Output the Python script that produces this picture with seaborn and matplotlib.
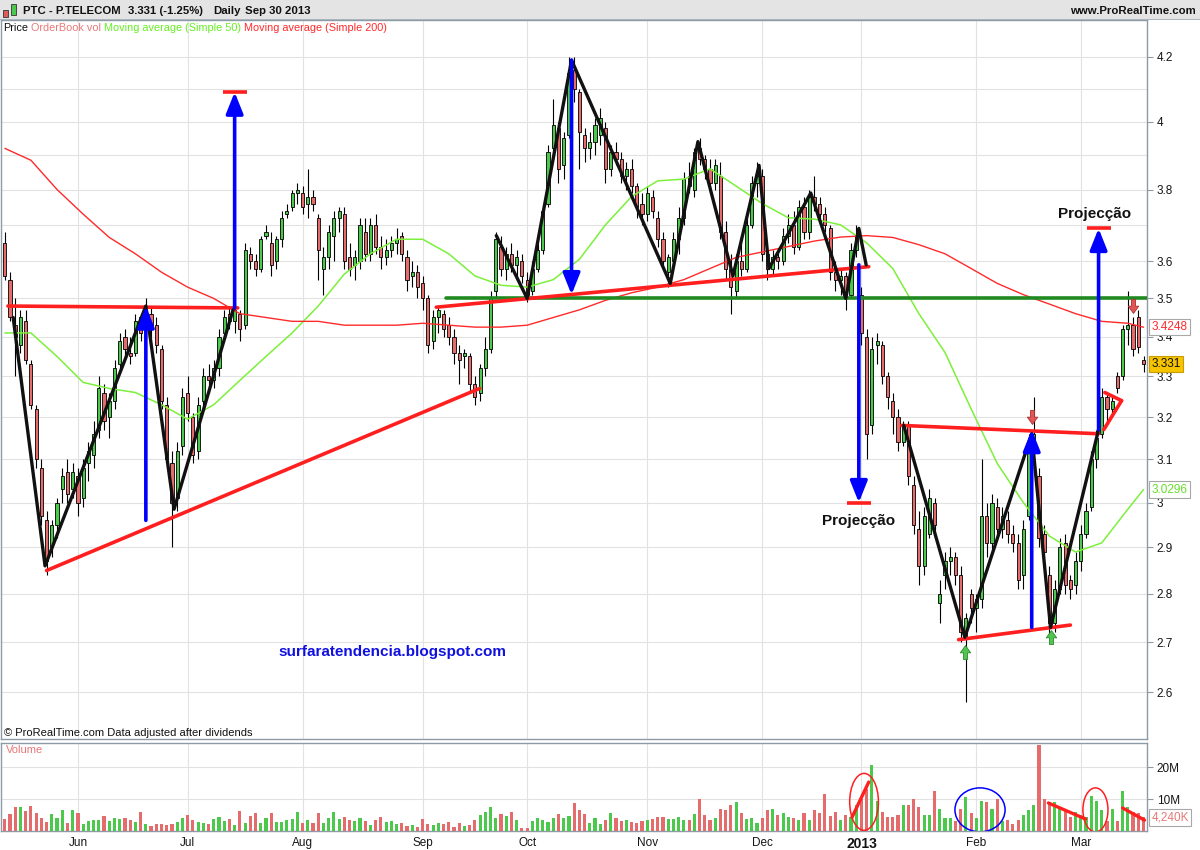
import numpy as np
import pandas as pd
import matplotlib
matplotlib.use("Agg")
import matplotlib.pyplot as plt
from matplotlib.patches import Rectangle, Ellipse
from matplotlib.path import Path
from matplotlib.ticker import FixedLocator, FuncFormatter, NullFormatter
import matplotlib.transforms as mtransforms
import seaborn as sns

# ---------------- data (PTC daily, May 2012 - Mar 2013) ----------------
open_px = [
    3.65, 3.55, 3.43, 3.38, 3.44, 3.33, 3.22, 3.08, 2.96, 2.90,
    2.95, 3.03, 3.07, 3.03, 3.06, 3.01, 3.09, 3.11, 3.17, 3.26,
    3.20, 3.24, 3.33, 3.40, 3.36, 3.36, 3.45, 3.42, 3.46, 3.43,
    3.37, 3.23, 3.09, 3.01, 3.13, 3.26, 3.20, 3.12, 3.24, 3.30,
    3.29, 3.32, 3.41, 3.46, 3.44, 3.46, 3.43, 3.62, 3.60, 3.58,
    3.67, 3.65, 3.60, 3.66, 3.73, 3.75, 3.79, 3.79, 3.76, 3.78,
    3.72, 3.58, 3.61, 3.67, 3.72, 3.73, 3.61, 3.59, 3.60, 3.68,
    3.62, 3.70, 3.64, 3.61, 3.63, 3.65, 3.67, 3.61, 3.56, 3.57,
    3.54, 3.50, 3.39, 3.45, 3.46, 3.43, 3.40, 3.36, 3.35, 3.35,
    3.28, 3.26, 3.32, 3.37, 3.52, 3.64, 3.58, 3.62, 3.59, 3.60,
    3.55, 3.52, 3.58, 3.63, 3.76, 3.92, 3.98, 3.87, 3.96, 4.16,
    4.09, 3.96, 3.92, 3.94, 3.96, 3.98, 3.86, 3.91, 3.89, 3.84,
    3.86, 3.81, 3.76, 3.73, 3.78, 3.72, 3.66, 3.57, 3.60, 3.66,
    3.72, 3.84, 3.80, 3.92, 3.89, 3.86, 3.82, 3.84, 3.68, 3.58,
    3.52, 3.60, 3.58, 3.70, 3.82, 3.84, 3.62, 3.58, 3.61, 3.60,
    3.67, 3.70, 3.64, 3.75, 3.68, 3.78, 3.76, 3.73, 3.69, 3.57,
    3.55, 3.56, 3.51, 3.63, 3.51, 3.40, 3.18, 3.38, 3.38, 3.30,
    3.24, 3.20, 3.14, 3.18, 3.04, 2.94, 2.86, 2.93, 3.00, 2.78,
    2.84, 2.87, 2.88, 2.84, 2.71, 2.80, 2.77, 2.79, 2.97, 2.91,
    2.99, 2.94, 2.96, 2.93, 2.91, 2.84, 2.97, 3.13, 3.06, 2.93,
    2.84, 2.74, 2.81, 2.91, 2.83, 2.82, 2.87, 2.93, 2.99, 3.10,
    3.16, 3.25, 3.22, 3.30, 3.30, 3.42, 3.43, 3.45, 3.34,
]
high_px = [
    3.68, 3.57, 3.50, 3.47, 3.47, 3.34, 3.23, 3.10, 2.98, 2.96,
    3.01, 3.08, 3.10, 3.09, 3.08, 3.10, 3.14, 3.19, 3.30, 3.28,
    3.26, 3.34, 3.41, 3.42, 3.40, 3.46, 3.46, 3.50, 3.48, 3.45,
    3.38, 3.25, 3.12, 3.14, 3.27, 3.30, 3.21, 3.25, 3.32, 3.33,
    3.34, 3.42, 3.47, 3.48, 3.49, 3.47, 3.65, 3.64, 3.62, 3.67,
    3.70, 3.68, 3.67, 3.74, 3.76, 3.80, 3.82, 3.81, 3.86, 3.80,
    3.73, 3.64, 3.70, 3.74, 3.75, 3.75, 3.65, 3.63, 3.72, 3.72,
    3.72, 3.73, 3.67, 3.66, 3.67, 3.69, 3.68, 3.63, 3.60, 3.59,
    3.56, 3.51, 3.47, 3.48, 3.47, 3.45, 3.42, 3.38, 3.37, 3.36,
    3.30, 3.33, 3.40, 3.52, 3.68, 3.67, 3.64, 3.65, 3.63, 3.62,
    3.57, 3.60, 3.65, 3.76, 3.93, 4.07, 4.00, 3.97, 4.20, 4.20,
    4.10, 3.98, 3.97, 4.01, 4.04, 4.00, 3.93, 3.94, 3.91, 3.88,
    3.89, 3.82, 3.79, 3.81, 3.80, 3.74, 3.68, 3.62, 3.68, 3.75,
    3.85, 3.88, 3.92, 3.95, 3.90, 3.89, 3.89, 3.88, 3.71, 3.62,
    3.62, 3.67, 3.72, 3.84, 3.88, 3.86, 3.64, 3.63, 3.63, 3.69,
    3.73, 3.74, 3.77, 3.78, 3.80, 3.84, 3.78, 3.75, 3.70, 3.60,
    3.58, 3.57, 3.65, 3.70, 3.53, 3.42, 3.40, 3.41, 3.39, 3.31,
    3.26, 3.22, 3.19, 3.19, 3.06, 2.98, 2.99, 3.03, 3.01, 2.83,
    2.89, 2.90, 2.89, 2.86, 2.76, 2.81, 2.80, 3.10, 3.00, 3.02,
    3.01, 2.99, 2.98, 2.95, 2.93, 2.96, 3.16, 3.25, 3.08, 2.95,
    2.86, 2.83, 2.92, 2.93, 2.84, 2.89, 2.95, 3.00, 3.12, 3.17,
    3.27, 3.26, 3.25, 3.31, 3.43, 3.52, 3.45, 3.47, 3.35,
]
low_px = [
    3.55, 3.44, 3.30, 3.36, 3.33, 3.22, 3.08, 2.95, 2.84, 2.88,
    2.92, 3.00, 3.00, 3.01, 2.97, 2.99, 3.05, 3.08, 3.15, 3.17,
    3.15, 3.22, 3.31, 3.35, 3.33, 3.35, 3.39, 3.40, 3.40, 3.36,
    3.22, 3.08, 2.90, 2.98, 3.11, 3.19, 3.09, 3.10, 3.22, 3.26,
    3.27, 3.30, 3.39, 3.42, 3.41, 3.39, 3.42, 3.58, 3.56, 3.57,
    3.66, 3.56, 3.58, 3.64, 3.72, 3.74, 3.76, 3.73, 3.72, 3.74,
    3.55, 3.51, 3.58, 3.60, 3.68, 3.58, 3.56, 3.55, 3.58, 3.60,
    3.60, 3.62, 3.58, 3.59, 3.61, 3.62, 3.60, 3.52, 3.53, 3.50,
    3.47, 3.36, 3.37, 3.41, 3.40, 3.38, 3.33, 3.28, 3.32, 3.26,
    3.23, 3.24, 3.30, 3.36, 3.50, 3.56, 3.55, 3.57, 3.55, 3.54,
    3.49, 3.51, 3.57, 3.62, 3.75, 3.90, 3.82, 3.83, 3.95, 4.06,
    3.86, 3.88, 3.89, 3.90, 3.93, 3.82, 3.84, 3.87, 3.82, 3.80,
    3.79, 3.72, 3.70, 3.71, 3.72, 3.64, 3.58, 3.53, 3.59, 3.62,
    3.70, 3.79, 3.78, 3.87, 3.83, 3.79, 3.80, 3.66, 3.55, 3.46,
    3.50, 3.56, 3.57, 3.69, 3.78, 3.60, 3.55, 3.56, 3.58, 3.59,
    3.65, 3.62, 3.63, 3.66, 3.66, 3.74, 3.70, 3.68, 3.55, 3.52,
    3.51, 3.47, 3.50, 3.61, 3.38, 3.10, 3.16, 3.33, 3.28, 3.22,
    3.16, 3.12, 3.13, 3.04, 2.93, 2.82, 2.84, 2.92, 2.92, 2.74,
    2.81, 2.84, 2.82, 2.70, 2.58, 2.74, 2.72, 2.77, 2.88, 2.89,
    2.92, 2.92, 2.91, 2.89, 2.81, 2.81, 2.96, 3.11, 2.90, 2.86,
    2.71, 2.72, 2.80, 2.80, 2.79, 2.80, 2.85, 2.92, 2.98, 3.08,
    3.15, 3.19, 3.20, 3.26, 3.29, 3.38, 3.35, 3.36, 3.31,
]
close_px = [
    3.56, 3.45, 3.40, 3.45, 3.34, 3.23, 3.10, 2.97, 2.87, 2.95,
    3.00, 3.06, 3.02, 3.07, 3.00, 3.08, 3.12, 3.16, 3.27, 3.19,
    3.24, 3.32, 3.39, 3.37, 3.35, 3.44, 3.41, 3.47, 3.42, 3.38,
    3.24, 3.10, 3.00, 3.12, 3.25, 3.21, 3.11, 3.23, 3.30, 3.29,
    3.32, 3.40, 3.45, 3.44, 3.47, 3.42, 3.63, 3.60, 3.58, 3.66,
    3.68, 3.59, 3.66, 3.72, 3.74, 3.79, 3.80, 3.75, 3.78, 3.76,
    3.63, 3.61, 3.68, 3.72, 3.74, 3.60, 3.58, 3.61, 3.70, 3.62,
    3.70, 3.64, 3.61, 3.63, 3.65, 3.66, 3.62, 3.55, 3.57, 3.53,
    3.50, 3.38, 3.45, 3.47, 3.42, 3.40, 3.36, 3.34, 3.36, 3.28,
    3.25, 3.32, 3.37, 3.50, 3.66, 3.58, 3.62, 3.59, 3.61, 3.56,
    3.51, 3.58, 3.63, 3.74, 3.91, 3.99, 3.86, 3.95, 4.15, 4.10,
    3.97, 3.92, 3.94, 3.99, 4.01, 3.86, 3.91, 3.89, 3.84, 3.86,
    3.81, 3.75, 3.73, 3.79, 3.74, 3.66, 3.60, 3.61, 3.66, 3.72,
    3.83, 3.81, 3.91, 3.89, 3.86, 3.82, 3.87, 3.68, 3.58, 3.53,
    3.60, 3.58, 3.70, 3.82, 3.84, 3.62, 3.58, 3.61, 3.60, 3.67,
    3.70, 3.64, 3.75, 3.68, 3.78, 3.76, 3.73, 3.70, 3.57, 3.55,
    3.56, 3.51, 3.63, 3.67, 3.41, 3.16, 3.37, 3.39, 3.30, 3.25,
    3.20, 3.14, 3.18, 3.06, 2.95, 2.86, 2.97, 3.01, 2.95, 2.80,
    2.87, 2.88, 2.84, 2.72, 2.75, 2.77, 2.79, 2.97, 2.91, 3.00,
    2.94, 2.97, 2.93, 2.91, 2.83, 2.94, 3.13, 3.16, 2.92, 2.89,
    2.74, 2.81, 2.90, 2.82, 2.81, 2.87, 2.93, 2.98, 3.10, 3.15,
    3.25, 3.22, 3.24, 3.27, 3.42, 3.43, 3.37, 3.373, 3.331,
]
volume_m = [
    3.6, 5.2, 7.5, 7.5, 6.2, 7.8, 5.7, 4.2, 2.8, 5.2, 4.2, 6.5, 2.6, 6.5,
    5.7, 2.3, 3.1, 3.4, 3.3, 4.7, 3.1, 4.2, 3.9, 4.0, 3.4, 2.9, 5.9, 2.1, 1.5, 2.1, 2.3, 1.8, 2.3, 2.9, 4.0,
    5.0, 3.3, 2.9, 2.6, 2.3, 3.6, 4.4, 3.1, 3.6, 1.9, 6.2, 2.6, 4.7, 5.5, 2.6, 4.2, 5.7, 2.9, 2.8, 3.3, 3.6, 6.0,
    2.6, 3.3, 2.6, 5.5, 2.6, 4.2, 6.0, 3.6, 4.4, 3.5, 3.1, 4.0, 3.1, 1.9, 3.5, 4.4, 2.9, 3.1, 2.1, 2.6, 1.6, 1.9, 1.2,
    3.6, 2.1, 1.8, 2.6, 2.1, 2.8, 1.2, 2.6, 1.5, 1.9, 3.3, 5.0, 6.0, 7.5, 4.2, 5.2, 4.7, 6.0, 3.3, 0.8,
    0.8, 3.1, 4.0, 3.3, 2.9, 4.2, 5.2, 4.2, 4.7, 8.9, 6.5, 5.2, 2.6, 4.2, 2.3, 3.3, 5.7, 4.0, 3.0, 3.5, 2.8, 2.5, 3.0,
    3.5, 3.7, 4.3, 4.3, 3.8, 3.7, 4.3, 3.5, 3.3, 5.2, 10.0, 5.0, 3.4, 4.2, 7.0, 6.5, 8.0, 9.0, 5.5, 3.7, 4.2, 2.6,
    4.2, 6.7, 7.0, 5.0, 5.5, 4.3, 4.0, 3.5, 5.5, 3.5, 6.5, 5.5, 11.5, 4.8, 6.0, 3.5, 5.0, 4.5, 8.0,
    10.0, 13.0, 20.5, 9.5, 6.0, 4.5, 4.5, 5.0, 8.0, 8.0, 10.0, 7.5, 5.0, 5.0, 12.5, 7.0, 4.0, 4.0, 3.0, 7.0, 10.5, 5.5,
    4.0, 9.5, 9.0, 7.0, 10.0, 3.0, 3.5, 2.2, 3.5, 5.0, 6.5, 8.0, 27.0, 10.0, 9.0, 9.0, 7.0, 6.5, 4.5, 6.0,
    5.0, 4.5, 11.0, 9.5, 6.5, 3.0, 7.0, 3.0, 12.5, 7.5, 6.0, 5.5, 4.24,
]
# moving averages, one reading every 5 sessions plus the last session
ma50 = [3.41, 3.41, 3.35, 3.285, 3.27, 3.26, 3.23, 3.195, 3.23, 3.29,
        3.35, 3.41, 3.48, 3.565, 3.62, 3.66, 3.66, 3.62, 3.56, 3.535,
        3.53, 3.55, 3.605, 3.70, 3.78, 3.825, 3.83, 3.86, 3.81, 3.76,
        3.72, 3.716, 3.70, 3.65, 3.58, 3.46, 3.36, 3.22, 3.09, 3.00,
        2.925, 2.89, 2.91, 2.985, 3.0296]
ma200 = [3.92, 3.885, 3.80, 3.73, 3.665, 3.62, 3.57, 3.53, 3.50, 3.46,
         3.45, 3.44, 3.44, 3.43, 3.43, 3.43, 3.435, 3.43, 3.425, 3.425,
         3.43, 3.45, 3.47, 3.495, 3.515, 3.53, 3.55, 3.58, 3.61, 3.625,
         3.64, 3.655, 3.666, 3.67, 3.665, 3.645, 3.62, 3.58, 3.54, 3.51,
         3.485, 3.46, 3.44, 3.435, 3.4248]

# hand-drawn analysis (session index, price)
zig1_i = [1.6, 7.7, 27.0, 32.4, 43.7]
zig1_p = [3.45, 2.86, 3.48, 2.985, 3.47]
zig2_i = [94.1, 100.0, 108.5, 127.4, 132.7, 139.4, 144.4, 146.3, 154.3, 161.0, 163.5, 164.9]
zig2_p = [3.67, 3.50, 4.19, 3.54, 3.94, 3.56, 3.87, 3.58, 3.79, 3.50, 3.69, 3.59]
zig3_i = [172.1, 183.8, 196.6, 200.2, 209.4]
zig3_p = [3.18, 2.71, 3.16, 2.73, 3.17]
red_lines = [((8.0, 2.85), (90.9, 3.27)), ((0.6, 3.48), (44.6, 3.475)),
             ((82.6, 3.477), (165.4, 3.585)), ((171.7, 3.18), (209.4, 3.16)),
             ((182.6, 2.705), (204.0, 2.735)), ((210.4, 3.17), (213.8, 3.24)),
             ((210.6, 3.26), (213.8, 3.24))]
blue_i = [27.0, 44.0, 108.5, 163.5, 196.6, 209.4]
blue_from = [2.96, 3.475, 4.19, 3.59, 2.73, 3.17]
blue_to = [3.48, 4.09, 3.51, 3.00, 3.17, 3.69]
target_i = [44.0, 163.5, 209.4]
target_p = [4.09, 3.00, 3.69]
sell_i, sell_p = [196.6, 215.9], [3.20, 3.48]
buy_i, buy_p = [183.8, 200.2], [2.68, 2.71]
vol_lines = [((162.2, 4.3), (165.4, 15.3)), ((199.8, 8.75), (206.9, 3.75)), ((214.0, 7.2), (218.2, 3.4))]

market_holidays = ["2012-12-25", "2012-12-26", "2013-01-01"]

# ---------------- style ----------------
sns.set_theme(style="white")
plt.rcParams['font.family'] = ['Liberation Sans', 'DejaVu Sans']

UP, DOWN = "#4cc84c", "#e46c6c"
RED, BLUE, MA50_C, MA200_C = "#ff1f1f", "#0000ff", "#7cf03a", "#ff2a2a"
GRID, EDGE = "#e2e2e2", "#8e9ba6"

n = len(close_px)
idx = np.arange(n)
days = pd.bdate_range("2012-05-14", periods=n, freq="C", holidays=market_holidays)
month_pos = [i for i in range(1, n) if days[i].month != days[i - 1].month]
month_lbl = ["2013" if days[i].month == 1 else days[i].strftime("%b") for i in month_pos]

o, h, l, c = map(np.array, (open_px, high_px, low_px, close_px))
rising = c >= o
body_col = np.where(rising, UP, DOWN)

W, H = 1200, 850
fig = plt.figure(figsize=(12, 8.5), dpi=100)
fx = lambda px: px / W
fy = lambda py: 1 - py / H

ax = fig.add_axes([fx(1), fy(739), fx(1147) - fx(1), fy(20) - fy(739)])
axv = fig.add_axes([fx(1), fy(831), fx(1147) - fx(1), fy(743) - fy(831)])
xlo, xhi = -0.73, 218.67

# ---------------- price panel ----------------
ax.set_yscale("log")
ax.vlines(idx, l, h, color="black", lw=0.8, zorder=2)
ax.bar(idx, c - o, bottom=o, width=0.6, color=body_col, edgecolor="black", linewidth=0.6, zorder=3)

ma_pos = list(range(0, n, 5)) + [n - 1]
sns.lineplot(x=ma_pos, y=ma50, ax=ax, color=MA50_C, lw=1.1, zorder=4)
sns.lineplot(x=ma_pos, y=ma200, ax=ax, color=MA200_C, lw=1.0, zorder=4)

ax.plot([84.4, xhi], [3.5, 3.5], color="#208a20", lw=2.6, zorder=5)
for (x0, y0), (x1, y1) in red_lines:
    ax.plot([x0, x1], [y0, y1], color=RED, lw=2.6, solid_capstyle="round", zorder=6)
for zi, zp in ((zig1_i, zig1_p), (zig2_i, zig2_p), (zig3_i, zig3_p)):
    ax.plot(zi, zp, color="#111111", lw=2.4, zorder=6)
for bi, b0, b1 in zip(blue_i, blue_from, blue_to):
    ax.annotate("", xy=(bi, b1), xytext=(bi, b0), zorder=7,
                arrowprops=dict(arrowstyle="-|>,head_length=1.0,head_width=0.4", color=BLUE,
                                lw=2.6, shrinkA=0, shrinkB=0, mutation_scale=13))
for ti, tp in zip(target_i, target_p):
    ax.plot([ti - 2.3, ti + 2.3], [tp, tp], color=RED, lw=2.6, solid_capstyle="butt", zorder=7)

arrow_dn = Path([(-0.3, 1), (0.3, 1), (0.3, 0.05), (0.75, 0.05), (0, -1), (-0.75, 0.05), (-0.3, 0.05), (-0.3, 1)],
                [Path.MOVETO] + [Path.LINETO] * 6 + [Path.CLOSEPOLY])
arrow_up = Path([(x, -y) for x, y in arrow_dn.vertices], arrow_dn.codes)
ax.plot(sell_i, sell_p, ls="none", marker=arrow_dn, markersize=10, mfc="#e25555", mec="#a83030", mew=0.6, zorder=8)
ax.plot(buy_i, buy_p, ls="none", marker=arrow_up, markersize=10, mfc="#52c452", mec="#2c8a2c", mew=0.6, zorder=8)

ax.text(163.5, 2.958, "Projecção", fontsize=11, fontweight="bold", color="#111", ha="center", va="center", zorder=9)
ax.text(208.6, 3.73, "Projecção", fontsize=11, fontweight="bold", color="#111", ha="center", va="center", zorder=9)
ax.text(74.2, 2.68, "surfaratendencia.blogspot.com", fontsize=11, fontweight="bold", color="#1010e0",
        ha="center", va="center", zorder=9)
ax.text(0.003, 0.009, "© ProRealTime.com Data adjusted after dividends", transform=ax.transAxes,
        fontsize=8, color="#111", ha="left", va="center")

ax.set_xlim(xlo, xhi)
ax.set_ylim(2.5095, 4.319)
price_ticks = [2.6, 2.7, 2.8, 2.9, 3.0, 3.1, 3.2, 3.3, 3.4, 3.5, 3.6, 3.8, 4.0, 4.2]
ax.yaxis.set_major_locator(FixedLocator(price_ticks))
ax.yaxis.set_major_formatter(FuncFormatter(lambda v, _: f"{v:g}"))
ax.yaxis.set_minor_locator(FixedLocator([3.7, 3.9, 4.1]))
ax.yaxis.set_minor_formatter(NullFormatter())
ax.yaxis.tick_right()
ax.tick_params(axis="y", which="major", length=4, width=0.8, color=EDGE, labelsize=8.5, pad=3, labelcolor="#151515")
ax.tick_params(axis="y", which="minor", length=0)
ax.set_xticks(month_pos)
ax.tick_params(axis="x", length=0, labelbottom=False)
ax.grid(True, which="both", axis="y", color=GRID, lw=0.8)
ax.grid(True, axis="x", color=GRID, lw=0.8)
ax.set_axisbelow(True)
ax.set_xlabel("")
ax.set_ylabel("")

tr = mtransforms.blended_transform_factory(ax.transAxes, ax.transData)
ax.text(1.004, 3.4248, "3.4248", transform=tr, fontsize=8.5, color="#ff2a2a", va="center", ha="left", zorder=10,
        bbox=dict(boxstyle="square,pad=0.18", fc="white", ec="#a8a8a8", lw=0.8))
ax.text(1.004, 3.331, "3.331", transform=tr, fontsize=8.5, color="#111", va="center", ha="left", zorder=10,
        bbox=dict(boxstyle="square,pad=0.18", fc="#f6c400", ec="#c99c00", lw=0.8))
ax.text(1.004, 3.0296, "3.0296", transform=tr, fontsize=8.5, color="#66dd2a", va="center", ha="left", zorder=10,
        bbox=dict(boxstyle="square,pad=0.18", fc="white", ec="#a8a8a8", lw=0.8))

# ---------------- volume panel ----------------
axv.bar(idx, volume_m, width=0.6, color=body_col, linewidth=0, zorder=3)
for (x0, y0), (x1, y1) in vol_lines:
    axv.plot([x0, x1], [y0, y1], color=RED, lw=2.4, zorder=5)
axv.add_patch(Ellipse((164.5, 9.1), 5.5, 17.8, fill=False, ec=RED, lw=1.1, zorder=6))
axv.add_patch(Ellipse((208.8, 6.6), 4.8, 13.75, fill=False, ec=RED, lw=1.1, zorder=6))
axv.add_patch(Ellipse((186.7, 6.6), 9.6, 13.75, fill=False, ec=BLUE, lw=1.1, zorder=6))
axv.text(0.004, 0.92, "Volume", transform=axv.transAxes, fontsize=8, color="#e87878", ha="left", va="center")

axv.set_xlim(xlo, xhi)
axv.set_ylim(0, 27.5)
axv.set_yticks([10, 20])
axv.set_yticklabels(["10M", "20M"])
axv.yaxis.tick_right()
axv.tick_params(axis="y", length=4, width=0.8, color=EDGE, labelsize=8.5, pad=3, labelcolor="#151515")
axv.set_xticks(month_pos)
axv.set_xticklabels(month_lbl)
axv.tick_params(axis="x", length=3, width=0.8, color=EDGE, labelsize=8.5, pad=1.5, labelcolor="#151515")
for t in axv.get_xticklabels():
    if t.get_text() == "2013":
        t.set_fontweight("bold")
        t.set_fontsize(10)
axv.grid(True, axis="both", color=GRID, lw=0.8)
axv.set_axisbelow(True)
trv = mtransforms.blended_transform_factory(axv.transAxes, axv.transData)
axv.text(1.004, 4.24, "4,240K", transform=trv, fontsize=8.5, color="#e87878", va="center", ha="left", zorder=10,
         bbox=dict(boxstyle="square,pad=0.18", fc="white", ec="#a8a8a8", lw=0.8))

for a in (ax, axv):
    for s in a.spines.values():
        s.set_color(EDGE)
        s.set_linewidth(1.0)

# ---------------- header ----------------
fig.add_artist(Rectangle((0, fy(20)), 1, 20 / H, transform=fig.transFigure, fc="#e4e4e4", ec="none", zorder=0))
fig.add_artist(Rectangle((0, fy(20)), 1, 0.6 / H, transform=fig.transFigure, fc="#a9b4bc", ec="none", zorder=1))
fig.add_artist(Rectangle((fx(3), fy(17)), 5 / W, 7 / H, transform=fig.transFigure, fc="#e05a5a", ec="#333", lw=0.6))
fig.add_artist(Rectangle((fx(11), fy(15)), 5 / W, 11 / H, transform=fig.transFigure, fc="#4cc84c", ec="#333", lw=0.6))
hdr = dict(fontsize=8.2, fontweight="bold", color="#111", va="center")
fig.text(fx(23), fy(11), "PTC - P.TELECOM", **hdr)
fig.text(fx(128), fy(11), "3.331 (-1.25%)", **hdr)
fig.text(fx(213), fy(11), "Daily", **hdr)
fig.text(fx(245), fy(11), "Sep 30 2013", **hdr)
fig.text(fx(1196), fy(11), "www.ProRealTime.com", ha="right", **hdr)

# legend row: each piece placed right after the previous one
renderer = fig.canvas.get_renderer()
x_px = 3
for txt, col in [("Price", "#111"), ("OrderBook vol", "#e87878"),
                 ("Moving average (Simple 50)", "#66ee22"), ("Moving average (Simple 200)", "#ff2a2a")]:
    t = fig.text(fx(x_px), fy(28), txt, color=col, fontsize=7.8, va="center")
    x_px = t.get_window_extent(renderer).x1 + 3

fig.savefig("out.png", dpi=100, facecolor="white")
